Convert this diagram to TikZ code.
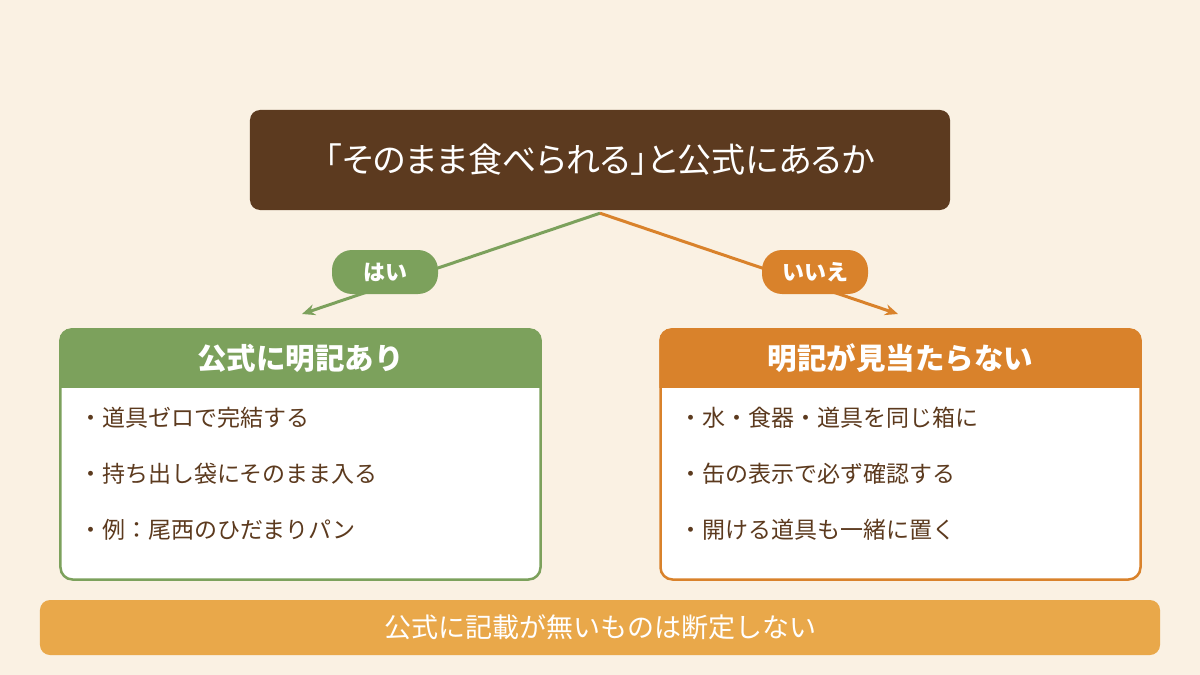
\documentclass[tikz,border=0pt]{standalone}
\usepackage{fontspec}
\newfontfamily\jpfont{Noto Sans CJK JP}
\newfontfamily\jppfont[RawFeature=+palt]{Noto Sans CJK JP}
\usetikzlibrary{positioning, arrows.meta}

% ==================== colours ====================
\definecolor{bgColor}{HTML}{FAF1E3}
\definecolor{qColor}{HTML}{5C3A1F}
\definecolor{gColor}{HTML}{7CA15C}
\definecolor{oColor}{HTML}{D9822B}
\definecolor{noteColor}{HTML}{E9A84A}
\definecolor{itemColor}{HTML}{5C3A1E}

\begin{document}
\begin{tikzpicture}[
    x=1bp, y=-1bp,
    % box styles
    qbox/.style={rectangle, rounded corners=10bp, fill=qColor, text=white, minimum width=700bp, minimum height=100bp, font=\jppfont\fontsize{34bp}{38bp}\selectfont},
    pill/.style={rectangle, rounded corners=20bp, fill=#1, text=white, minimum width=106bp, minimum height=44bp, font=\jpfont\bfseries\fontsize{22bp}{26bp}\selectfont},
    card/.style={rectangle, draw=#1, line width=2.5bp, fill=white, rounded corners=12bp, minimum width=480bp, minimum height=250bp},
    head/.style={text=white, font=\jpfont\bfseries\fontsize{29.5bp}{34bp}\selectfont},
    item/.style={anchor=west, inner sep=0pt, text=itemColor, font=\jpfont\fontsize{23bp}{28bp}\selectfont},
    note/.style={rectangle, rounded corners=10bp, fill=noteColor, text=white, minimum width=1120bp, minimum height=55bp, font=\jpfont\fontsize{27bp}{30bp}\selectfont},
    % arrows
    arr/.style={-{Stealth[length=13bp, width=11bp]}, line width=3bp, color=#1},
]

% ==================== 1. background ====================
\fill[bgColor] (0,0) rectangle (1200,675);

% ==================== 2. question ====================
\node[qbox] (q) at (600,160) {「そのまま食べられる」と公式にあるか};

\coordinate (yesEnd) at (302,314);
\coordinate (noEnd)  at (898,314);

\draw[arr=gColor] ([yshift=-3bp]q.south) -- (yesEnd);
\draw[arr=oColor] ([yshift=-3bp]q.south) -- (noEnd);

\node[pill=gColor] (yes) at (385,272) {はい};
\node[pill=oColor] (no)  at (815,272) {いいえ};

% ==================== 3. left card ====================
\node[card=gColor] (cardL) at (300.5,454.5) {};
\begin{scope}
  \clip[rounded corners=12bp] (cardL.north west) rectangle (cardL.south east);
  \fill[gColor] (cardL.north west) rectangle ([yshift=-60bp]cardL.north east);
\end{scope}
\node[head] (headL) at ([yshift=-30bp]cardL.north) {公式に明記あり};

\node[item] (l1) at (79,418) {・道具ゼロで完結する};
\node[item] (l2) at (79,474) {・持ち出し袋にそのまま入る};
\node[item] (l3) at (79,530) {・例：尾西のひだまりパン};

% ==================== 4. right card ====================
\node[card=oColor] (cardR) at (900.5,454.5) {};
\begin{scope}
  \clip[rounded corners=12bp] (cardR.north west) rectangle (cardR.south east);
  \fill[oColor] (cardR.north west) rectangle ([yshift=-60bp]cardR.north east);
\end{scope}
\node[head] (headR) at ([yshift=-30bp]cardR.north) {明記が見当たらない};

\node[item] (r1) at (679,418) {・水・食器・道具を同じ箱に};
\node[item] (r2) at (679,474) {・缶の表示で必ず確認する};
\node[item] (r3) at (679,530) {・開ける道具も一緒に置く};

% ==================== 5. note ====================
\node[note] (rule) at (600,627.5) {公式に記載が無いものは断定しない};

\end{tikzpicture}
\end{document}
